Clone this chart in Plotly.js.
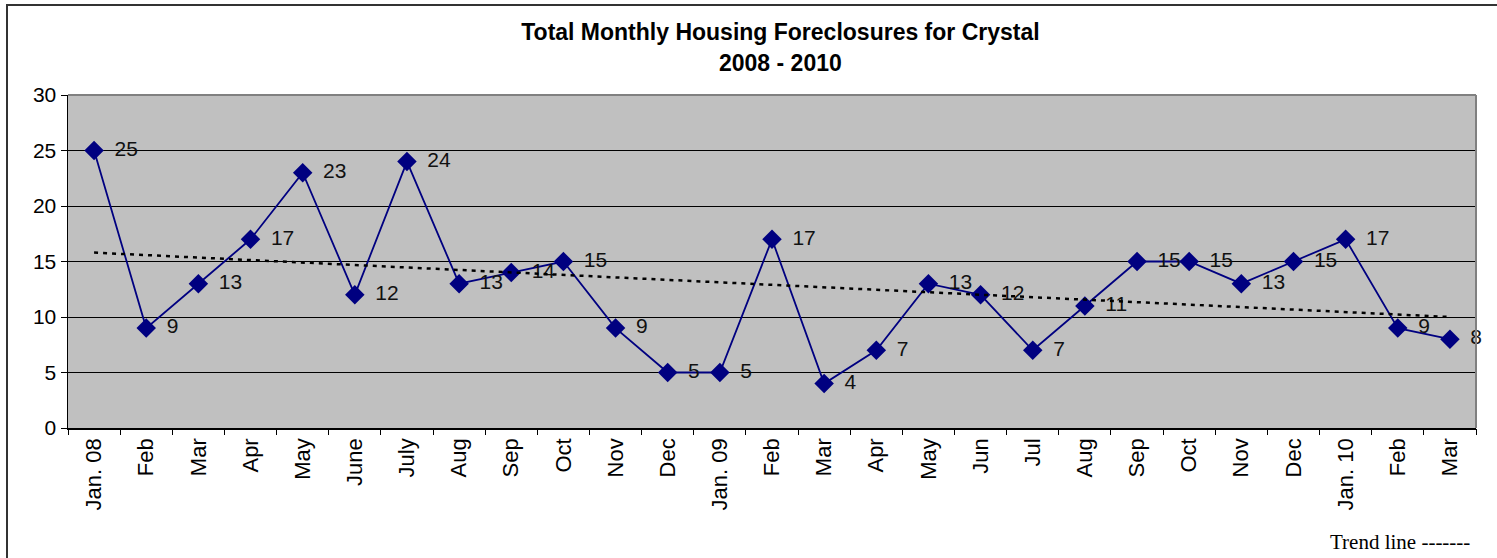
<!DOCTYPE html>
<html>
<head>
<meta charset="utf-8">
<script src="https://cdn.plot.ly/plotly-3.0.1.min.js"></script>
<style>html,body{margin:0;padding:0;background:#fff;}#chart{width:1497px;height:558px;}</style>
</head>
<body>
<div id="chart"></div>
<script>
const monthLabels = ["Jan. 08","Feb","Mar","Apr","May","June","July","Aug","Sep","Oct","Nov","Dec",
  "Jan. 09","Feb","Mar","Apr","May","Jun","Jul","Aug","Sep","Oct","Nov","Dec","Jan. 10","Feb","Mar"];
const foreclosures = [25,9,13,17,23,12,24,13,14,15,9,5,5,17,4,7,13,12,7,11,15,15,13,15,17,9,8];
const trendEnds = [15.8, 10.0];

const idx = monthLabels.map((_, i) => i);
const boundaries = [];
for (let i = 0; i <= monthLabels.length; i++) boundaries.push(i - 0.5);
const trendX = [0, monthLabels.length - 1];
const xr = [-0.5, monthLabels.length - 0.5];

const font = {family: 'Liberation Sans, Arial, sans-serif', color: '#000'};

const data = [
  {
    x: idx, y: foreclosures, type: 'scatter', mode: 'lines+markers+text',
    text: foreclosures.map(v => ' \u2009' + v), textposition: 'middle right',
    textfont: {family: font.family, size: 21, color: '#111'},
    line: {color: '#000080', width: 1.8},
    marker: {symbol: 'diamond', size: 15, color: '#000080'},
    cliponaxis: false, showlegend: false, hoverinfo: 'x+y'
  },
  {
    x: trendX, y: trendEnds, type: 'scatter', mode: 'lines', xaxis: 'x2',
    line: {color: '#000', width: 2.5, dash: '4px,5px'}, showlegend: false, hoverinfo: 'skip'
  }
];

const layout = {
  width: 1497, height: 558,
  margin: {l: 68, r: 21, t: 95, b: 130},
  paper_bgcolor: '#fff', plot_bgcolor: '#c0c0c0',
  font: font,
  title: {text: 'Total Monthly Housing Foreclosures for Crystal', x: 0.506, xref: 'paper', xanchor: 'center',
    y: 1 - 32/558, yanchor: 'middle', font: {family: font.family, size: 23, color: '#000', weight: 'bold'}},
  xaxis: {
    range: xr, tickmode: 'array', tickvals: idx, ticktext: monthLabels, tickangle: -90,
    ticks: '', showgrid: false, zeroline: false, showline: true, linecolor: '#000', linewidth: 1.5,
    tickfont: {family: font.family, size: 22, color: '#000'}, fixedrange: true
  },
  xaxis2: {
    range: xr, overlaying: 'x', anchor: 'y', side: 'bottom', tickmode: 'array', tickvals: boundaries,
    showticklabels: false, ticks: 'outside', ticklen: 6, tickcolor: '#000', tickwidth: 1,
    showgrid: false, zeroline: false, showline: false
  },
  yaxis: {
    range: [0, 30], tickmode: 'array', tickvals: [0,5,10,15,20,25,30],
    ticks: 'outside', ticklen: 6, tickcolor: '#000', showgrid: true, gridcolor: '#000', gridwidth: 1,
    zeroline: false, showline: true, linecolor: '#000', linewidth: 1.5,
    tickfont: {family: font.family, size: 21, color: '#000'}, fixedrange: true
  },
  shapes: [
    {type: 'line', xref: 'paper', yref: 'paper', x0: 1, x1: 1, y0: 0, y1: 1, line: {color: '#808080', width: 2}},
    {type: 'line', xref: 'paper', yref: 'paper', x0: 0, x1: 1, y0: 1, y1: 1, line: {color: '#808080', width: 2}},
    {type: 'rect', xref: 'paper', yref: 'paper', x0: (7-68)/1408, x1: 1.2, y0: -0.6, y1: (428-5)/333,
      line: {color: '#333', width: 2}, fillcolor: 'rgba(0,0,0,0)', layer: 'below'}
  ],
  annotations: [
    {text: '<b>2008 - 2010</b>', xref: 'paper', yref: 'paper', x: 0.506, y: (428-63)/333,
      xanchor: 'center', yanchor: 'middle', showarrow: false, font: {family: font.family, size: 23, color: '#000'}},
    {text: 'Trend line -------', xref: 'paper', yref: 'paper', x: (1472-68)/1408, y: (428-542)/333,
      xanchor: 'right', yanchor: 'middle', showarrow: false, font: {family: 'Liberation Serif, Times New Roman, serif', size: 21, color: '#000'}}
  ]
};

Plotly.newPlot('chart', data, layout, {displayModeBar: false, staticPlot: true});
</script>
</body>
</html>
